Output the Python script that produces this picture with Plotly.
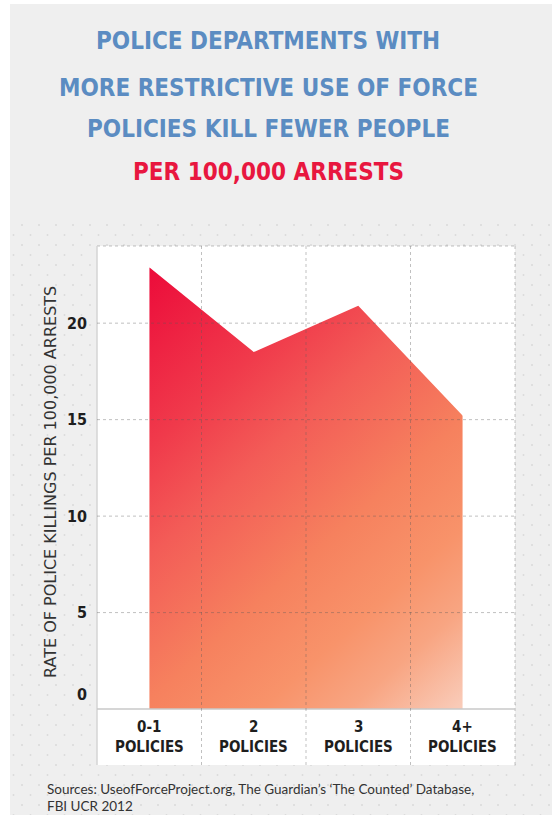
import base64
import plotly.graph_objects as go

# ---------------- data ----------------
categories = ["0-1", "2", "3", "4+"]
category_suffix = "POLICIES"
rates = [22.9, 18.5, 20.9, 15.2]
y_ticks = [0, 5, 10, 15, 20]
y_range = [-2.9, 24]
x_range = [-0.5, 3.5]

title_blue = ["POLICE DEPARTMENTS WITH",
              "MORE RESTRICTIVE USE OF FORCE",
              "POLICIES KILL FEWER PEOPLE"]
title_red = "PER 100,000 ARRESTS"
y_title = "RATE OF POLICE KILLINGS PER 100,000 ARRESTS"
source_lines = ["Sources: UseofForceProject.org, The Guardian\u2019s \u2018The Counted\u2019 Database,",
                "FBI UCR 2012"]

# ---------------- layout geometry ----------------
W, H = 552, 821
ML, MR, MT, MB = 97, 37, 246, 56
PW = W - ML - MR
PH = H - MT - MB


def px(p):
    return (p - ML) / PW


def py(p):
    return (H - MB - p) / PH


COND = "Liberation Sans Narrow, DejaVu Sans Condensed, Arial Narrow, sans-serif"
BLUE = "#5b8cc2"
RED = "#e8173f"
DARK = "#1e1e1e"

# page background with dot texture
bg_svg = f"""<svg xmlns='http://www.w3.org/2000/svg' width='{W}' height='{H}' viewBox='0 0 {W} {H}'>
<defs><pattern id='d' x='0' y='0' width='17' height='20' patternUnits='userSpaceOnUse'>
<circle cx='5' cy='5' r='1' fill='#dadada'/><circle cx='13.5' cy='15' r='1' fill='#dadada'/></pattern></defs>
<rect width='{W}' height='{H}' fill='#ffffff'/>
<rect x='10' y='4' width='{W-10}' height='811' fill='#efefef'/>
<rect x='10' y='218' width='{W-10}' height='597' fill='url(#d)'/>
</svg>"""
bg_src = "data:image/svg+xml;base64," + base64.b64encode(bg_svg.encode()).decode()

# diagonal gradient used to paint the area under the line
n = len(rates) - 1
top = max(rates)
gw = n * PW / (x_range[1] - x_range[0])
gh = top * PH / (y_range[1] - y_range[0])
ux, uy = 0.667, 0.745
L = gw * ux + gh * uy
stops = [(0.0, "#ec0b3a"), (0.25, "#f03a4b"), (0.4, "#f35c57"), (0.6, "#f6815e"),
         (0.75, "#f8936a"), (0.86, "#f8a582"), (1.0, "#f9cdbb")]
stop_xml = "".join(f"<stop offset='{o}' stop-color='{c}'/>" for o, c in stops)
grad_svg = f"""<svg xmlns='http://www.w3.org/2000/svg' width='{gw:.1f}' height='{gh:.1f}' viewBox='0 0 {gw:.1f} {gh:.1f}' preserveAspectRatio='none'>
<defs><linearGradient id='g' gradientUnits='userSpaceOnUse' x1='0' y1='0' x2='{L*ux:.1f}' y2='{L*uy:.1f}'>{stop_xml}</linearGradient></defs>
<rect width='{gw:.1f}' height='{gh:.1f}' fill='url(#g)'/>
</svg>"""
grad_src = "data:image/svg+xml;base64," + base64.b64encode(grad_svg.encode()).decode()

xs = list(range(len(rates)))
pad = 0.03

fig = go.Figure()
# mask the gradient above the data line (plot-area white)
fig.add_trace(go.Scatter(
    x=[xs[0] - pad] + xs + [xs[-1] + pad, xs[-1] + pad, xs[0] - pad],
    y=[rates[0]] + rates + [rates[-1], y_range[1], y_range[1]],
    fill="toself", fillcolor="#ffffff", mode="lines",
    line=dict(width=0, color="rgba(0,0,0,0)"), hoverinfo="skip", showlegend=False))

images = [
    dict(source=bg_src, xref="paper", yref="paper", x=px(0), y=py(0),
         sizex=W / PW, sizey=H / PH, xanchor="left", yanchor="top",
         sizing="stretch", layer="below"),
    dict(source=grad_src, xref="x", yref="y", x=xs[0], y=top,
         sizex=n, sizey=top, xanchor="left", yanchor="top",
         sizing="stretch", layer="below"),
]

GRID = "rgba(90,90,90,0.38)"
shapes = [
    dict(type="rect", xref="paper", yref="paper", x0=0, x1=1, y0=0, y1=1,
         fillcolor="#ffffff", line=dict(width=0), layer="below"),
    dict(type="line", xref="paper", yref="paper", x0=0, x1=1, y0=1, y1=1,
         line=dict(color=GRID, width=1, dash="dot"), layer="above"),
    dict(type="line", xref="paper", yref="paper", x0=1, x1=1, y0=0, y1=1,
         line=dict(color=GRID, width=1, dash="dot"), layer="above"),
    dict(type="line", xref="paper", yref="paper", x0=0, x1=0, y0=0, y1=1,
         line=dict(color="#d4d4d4", width=1.5), layer="above"),
]
for v in y_ticks:
    if v == 0:
        shapes.append(dict(type="line", xref="paper", yref="y", x0=0, x1=1, y0=v, y1=v,
                           line=dict(color="#c9c9c9", width=1.5), layer="above"))
    else:
        shapes.append(dict(type="line", xref="paper", yref="y", x0=0, x1=1, y0=v, y1=v,
                           line=dict(color=GRID, width=1, dash="dot"), layer="above"))
for i in range(len(categories) - 1):
    shapes.append(dict(type="line", xref="x", yref="paper", x0=i + 0.5, x1=i + 0.5, y0=0, y1=1,
                       line=dict(color=GRID, width=1, dash="dot"), layer="above"))

ann = []
title_y = [41, 87.5, 129]
for t, yy in zip(title_blue, title_y):
    ann.append(dict(text=f"<b>{t}</b>", xref="paper", yref="paper", x=px(268), y=py(yy),
                    xanchor="center", yanchor="middle", showarrow=False,
                    font=dict(family=COND, size=24, color=BLUE)))
ann.append(dict(text=f"<b>{title_red}</b>", xref="paper", yref="paper", x=px(268), y=py(172.5),
                xanchor="center", yanchor="middle", showarrow=False,
                font=dict(family=COND, size=24, color=RED)))

# y tick labels
for v in y_ticks:
    ann.append(dict(text=f"<b>{v}</b>", xref="paper", yref="y", x=px(89), y=v,
                    xanchor="right", yanchor="middle", showarrow=False,
                    yshift=15 if v == 0 else 0,
                    font=dict(family=COND, size=16, color=DARK)))

# x category labels
for i, c in enumerate(categories):
    ann.append(dict(text=f"<b>{c}</b>", xref="x", yref="paper", x=i, y=py(727),
                    xanchor="center", yanchor="middle", showarrow=False,
                    font=dict(family=COND, size=15, color=DARK)))
    ann.append(dict(text=f"<b>{category_suffix}</b>", xref="x", yref="paper", x=i, y=py(746.5),
                    xanchor="center", yanchor="middle", showarrow=False,
                    font=dict(family=COND, size=15, color=DARK)))

# y axis title
ann.append(dict(text=y_title, xref="paper", yref="paper", x=px(50), y=py(482),
                xanchor="center", yanchor="middle", textangle=-90, showarrow=False,
                font=dict(family="DejaVu Sans, sans-serif", size=16, color="#333333")))

# source note
for s, yy in zip(source_lines, [789, 806]):
    ann.append(dict(text=s, xref="paper", yref="paper", x=px(45), y=py(yy),
                    xanchor="left", yanchor="middle", showarrow=False,
                    font=dict(family="Lato, sans-serif", size=13.5, color="#333333")))

fig.update_layout(
    width=W, height=H,
    margin=dict(l=ML, r=MR, t=MT, b=MB, pad=0),
    paper_bgcolor="#ffffff",
    plot_bgcolor="rgba(0,0,0,0)",
    showlegend=False,
    xaxis=dict(range=x_range, showgrid=False, zeroline=False, showticklabels=False,
               showline=False, fixedrange=True),
    yaxis=dict(range=y_range, showgrid=False, zeroline=False, showticklabels=False,
               showline=False, fixedrange=True),
    images=images, shapes=shapes, annotations=ann,
)

fig.write_html("out.html", config={"displayModeBar": False},
               post_script="document.body.style.margin='0';")
